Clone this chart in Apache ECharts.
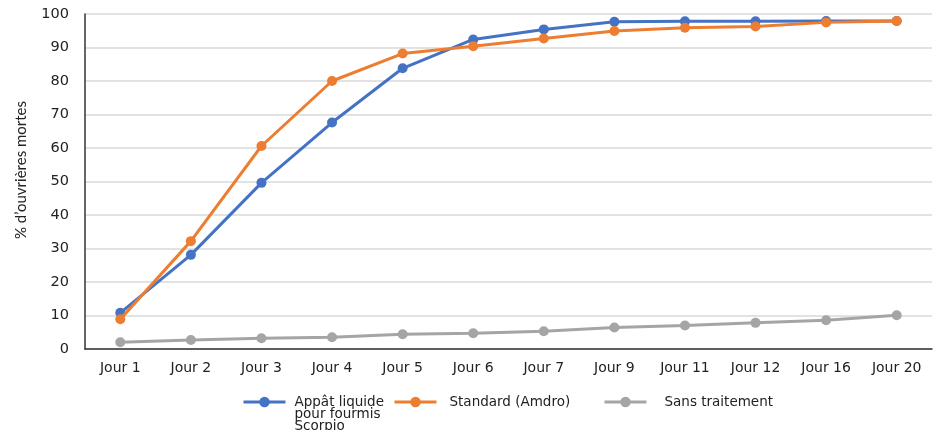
<!DOCTYPE html>
<html>
<head>
<meta charset="utf-8">
<script src="https://cdn.jsdelivr.net/npm/echarts@6/dist/echarts.min.js"></script>
<style>html,body{margin:0;padding:0;background:#fff}#c{width:941px;height:430px}</style>
</head>
<body>
<div id="c"></div>
<script>
const categories = ['Jour 1','Jour 2','Jour 3','Jour 4','Jour 5','Jour 6','Jour 7','Jour 9','Jour 11','Jour 12','Jour 16','Jour 20'];
const scorpio = [10.8, 28.1, 49.6, 67.6, 83.8, 92.4, 95.4, 97.7, 97.8, 97.8, 97.9, 97.9];
const amdro = [8.9, 32.2, 60.6, 80.0, 88.2, 90.4, 92.7, 94.9, 95.9, 96.3, 97.5, 97.9];
const untreated = [2.0, 2.7, 3.2, 3.5, 4.4, 4.7, 5.3, 6.4, 7.0, 7.8, 8.6, 10.1];
const seriesNames = ['Appât liquide\npour fourmis\nScorpio', 'Standard (Amdro)', 'Sans traitement'];
const yAxisTitle = '% d\u2019ouvrières mortes';
const yTicks = {min: 0, max: 100, interval: 10};

const colors = ['#4472C4', '#ED7D31', '#A5A5A5'];
const font = 'DejaVu Sans';
function mk(name, data, color, z) {
  return {
    name: name, type: 'line', data: data, z: z,
    symbol: 'circle', symbolSize: 10,
    lineStyle: {width: 3, color: color},
    itemStyle: {color: color},
    animation: false
  };
}
function lg(name, left, top, gap, fmt) {
  const o = {
    data: [name], left: left, top: top, orient: 'horizontal',
    itemWidth: 42, itemHeight: 13, itemGap: 0,
    lineStyle: {width: 3},
    textStyle: {fontFamily: font, fontSize: 13.5, color: '#222', lineHeight: 12, padding: [0, 0, 0, gap]},
    padding: 0
  };
  if (fmt) o.formatter = fmt;
  return o;
}
const chart = echarts.init(document.getElementById('c'));
chart.setOption({
  color: colors,
  animation: false,
  grid: {left: 85, right: 9, top: 14, bottom: 81, containLabel: false},
  legend: [
    lg(seriesNames[0], 242, 371, 4, function (n) { return '\n\n' + n; }),
    lg(seriesNames[1], 393, 395, 8),
    lg(seriesNames[2], 603, 395, 13)
  ],
  graphic: [{
    type: 'text', x: 21, y: 170, rotation: Math.PI / 2,
    style: {text: yAxisTitle, fontFamily: 'Lato', fontSize: 15, fill: '#222', align: 'center', verticalAlign: 'middle'}
  }],
  xAxis: {
    type: 'category', data: categories, boundaryGap: true,
    axisLine: {lineStyle: {color: '#333', width: 1.5}},
    axisTick: {show: false},
    axisLabel: {fontFamily: font, fontSize: 14, color: '#222', margin: 12}
  },
  yAxis: {
    type: 'value', min: yTicks.min, max: yTicks.max, interval: yTicks.interval,
    axisLine: {show: true, lineStyle: {color: '#333', width: 1.5}},
    axisTick: {show: false},
    axisLabel: {fontFamily: font, fontSize: 14.5, color: '#222', margin: 16},
    splitLine: {lineStyle: {color: '#d9d9d9', width: 1.5}}
  },
  series: [
    mk(seriesNames[0], scorpio, colors[0], 3),
    mk(seriesNames[1], amdro, colors[1], 4),
    mk(seriesNames[2], untreated, colors[2], 2)
  ]
});
</script>
</body>
</html>
